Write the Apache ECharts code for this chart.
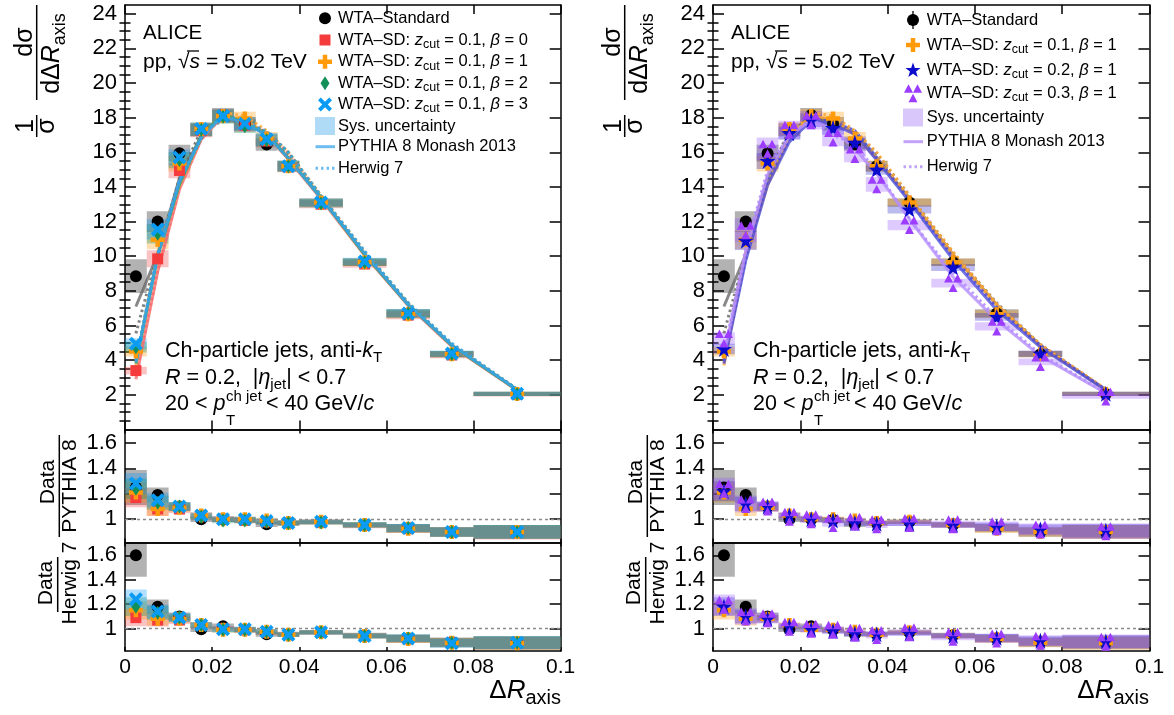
<!DOCTYPE html>
<html>
<head>
<meta charset="utf-8">
<script src="https://cdn.jsdelivr.net/npm/echarts@6.0.0/dist/echarts.min.js"></script>
<style>
html,body{margin:0;padding:0;background:#fff;}
#chart{width:1174px;height:715px;}
</style>
</head>
<body>
<div id="chart"></div>
<script>
// ================= DATA =================
const binEdges   = [0, 0.005, 0.01, 0.015, 0.02, 0.025, 0.03, 0.035, 0.04, 0.05, 0.06, 0.07, 0.08, 0.1];
const binCenters = [0.0025, 0.0075, 0.0125, 0.0175, 0.0225, 0.0275, 0.0325, 0.0375, 0.045, 0.055, 0.065, 0.075, 0.09];
const xTickValues     = [0, 0.02, 0.04, 0.06, 0.08, 0.1];
const mainTickLabels  = [2, 4, 6, 8, 10, 12, 14, 16, 18, 20, 22, 24];
const ratioTickLabels = [1, 1.2, 1.4, 1.6];

// main distributions 1/sigma dsigma/dDeltaR
const stdVals  = [8.85, 12.0, 15.95, 17.3, 18.15, 17.65, 16.45, 15.2, 13.1, 9.65, 6.7, 4.35, 2.05];
const sdB0Vals = [3.4, 9.85, 14.95, 17.25, 18.1, 17.55, 16.65, 15.15, 13.0, 9.55, 6.6, 4.3, 2.03];
const sdB1Vals = [4.5, 10.95, 15.35, 17.35, 18.1, 17.95, 16.8, 15.2, 13.1, 9.65, 6.65, 4.35, 2.05];
const sdB2Vals = [4.75, 11.3, 15.55, 17.3, 18.05, 17.5, 16.7, 15.2, 13.05, 9.65, 6.7, 4.35, 2.05];
const sdB3Vals = [4.95, 11.55, 15.7, 17.35, 18.1, 17.65, 16.75, 15.2, 13.1, 9.7, 6.7, 4.38, 2.06];
const sdZ2Vals = [4.65, 10.9, 15.5, 17.1, 17.85, 17.4, 16.55, 15.0, 12.7, 9.35, 6.5, 4.38, 2.06];
const sdZ3Vals = [5.25, 11.5, 16.2, 17.3, 17.85, 16.85, 15.9, 14.15, 11.8, 8.45, 5.95, 3.9, 1.9];

// PYTHIA 8 curves
const stdPythia  = [7.1, 10.1, 14.5, 16.95, 18.15, 17.75, 17.1, 15.65, 13.35, 10.1, 7.2, 4.85, 2.28];
const sdB0Pythia = [2.9, 9.1, 13.85, 16.75, 18.1, 17.75, 17.0, 15.6, 13.3, 10.05, 7.15, 4.8, 2.27];
const sdB1Pythia = [3.7, 10.15, 14.1, 16.85, 18.1, 17.9, 17.0, 15.65, 13.35, 10.1, 7.2, 4.85, 2.28];
const sdB2Pythia = [3.8, 10.0, 14.15, 16.95, 18.2, 17.7, 17.05, 15.65, 13.4, 10.1, 7.2, 4.85, 2.28];
const sdB3Pythia = [3.87, 10.05, 14.3, 16.85, 18.1, 17.65, 17.0, 15.65, 13.35, 10.15, 7.2, 4.87, 2.29];
const sdZ2Pythia = [3.8, 9.75, 14.1, 16.6, 17.85, 17.6, 17.05, 15.55, 13.15, 9.8, 6.9, 4.75, 2.26];
const sdZ3Pythia = [4.25, 10.25, 14.7, 16.95, 17.85, 17.35, 16.2, 14.75, 12.15, 8.8, 6.3, 4.25, 2.1];

// Herwig 7 curves
const stdHerwig  = [5.55, 10.15, 14.5, 17.3, 17.8, 17.85, 17.2, 15.9, 13.5, 10.2, 7.3, 4.9, 2.3];
const sdB0Herwig = [3.1, 9.2, 14.0, 16.75, 18.1, 17.75, 17.15, 15.95, 13.4, 10.15, 7.2, 4.85, 2.3];
const sdB1Herwig = [3.9, 10.15, 14.2, 16.85, 18.3, 18.1, 17.25, 16.0, 13.5, 10.25, 7.25, 4.9, 2.33];
const sdB2Herwig = [4.0, 10.0, 14.25, 16.8, 18.25, 17.7, 17.15, 16.0, 13.45, 10.25, 7.3, 4.9, 2.32];
const sdB3Herwig = [4.0, 10.15, 14.4, 16.85, 18.2, 17.75, 17.2, 16.0, 13.5, 10.3, 7.3, 4.98, 2.33];
const sdZ2Herwig = [3.95, 9.9, 14.35, 16.75, 17.95, 17.75, 17.25, 15.7, 13.25, 9.95, 7.05, 4.85, 2.3];
const sdZ3Herwig = [4.4, 10.45, 14.95, 17.05, 17.85, 17.0, 16.45, 14.9, 12.15, 9.05, 6.45, 4.35, 2.13];

// Data / PYTHIA 8
const stdRatioP  = [1.25, 1.19, 1.10, 1.0, 1.0, 0.995, 0.96, 0.97, 0.98, 0.955, 0.93, 0.9, 0.9];
const sdB0RatioP = [1.17, 1.08, 1.08, 1.03, 1.0, 0.99, 0.98, 0.97, 0.975, 0.95, 0.925, 0.9, 0.895];
const sdB1RatioP = [1.21, 1.08, 1.09, 1.03, 1.0, 1.0, 0.99, 0.97, 0.98, 0.955, 0.925, 0.9, 0.9];
const sdB2RatioP = [1.24, 1.13, 1.10, 1.02, 0.99, 0.99, 0.98, 0.97, 0.975, 0.955, 0.93, 0.9, 0.9];
const sdB3RatioP = [1.28, 1.15, 1.10, 1.03, 1.0, 1.0, 0.985, 0.97, 0.98, 0.955, 0.93, 0.9, 0.9];
const sdZ2RatioP = [1.22, 1.12, 1.10, 1.03, 1.0, 0.99, 0.97, 0.965, 0.965, 0.955, 0.94, 0.92, 0.91];
const sdZ3RatioP = [1.24, 1.12, 1.10, 1.02, 1.0, 0.97, 0.98, 0.96, 0.97, 0.96, 0.945, 0.92, 0.905];

// Data / Herwig 7
const stdRatioH  = [1.6, 1.18, 1.10, 0.995, 1.02, 0.99, 0.955, 0.955, 0.97, 0.945, 0.92, 0.89, 0.885];
const sdB0RatioH = [1.09, 1.07, 1.07, 1.03, 1.0, 0.99, 0.97, 0.95, 0.97, 0.94, 0.915, 0.885, 0.88];
const sdB1RatioH = [1.15, 1.08, 1.08, 1.03, 0.99, 0.99, 0.975, 0.95, 0.97, 0.94, 0.915, 0.885, 0.88];
const sdB2RatioH = [1.18, 1.13, 1.09, 1.03, 0.99, 0.99, 0.975, 0.95, 0.97, 0.94, 0.92, 0.885, 0.885];
const sdB3RatioH = [1.24, 1.14, 1.09, 1.03, 0.995, 0.995, 0.975, 0.95, 0.97, 0.94, 0.92, 0.88, 0.885];
const sdZ2RatioH = [1.18, 1.10, 1.08, 1.02, 0.995, 0.98, 0.96, 0.955, 0.96, 0.94, 0.925, 0.90, 0.895];
const sdZ3RatioH = [1.195, 1.10, 1.085, 1.016, 1.0, 0.99, 0.967, 0.948, 0.97, 0.934, 0.92, 0.90, 0.893];

// relative systematic uncertainties
const sysRelStd = [0.11, 0.05, 0.03, 0.022, 0.022, 0.022, 0.022, 0.02, 0.018, 0.022, 0.035, 0.042, 0.06];
const sysRelSD  = [0.065, 0.05, 0.03, 0.022, 0.022, 0.022, 0.022, 0.02, 0.018, 0.022, 0.035, 0.042, 0.06];
const sysRelZ3  = [0.07, 0.06, 0.04, 0.03, 0.03, 0.03, 0.03, 0.03, 0.025, 0.03, 0.04, 0.05, 0.065];

// ================= STYLE =================
const F = "'Liberation Sans', Arial, Helvetica, sans-serif";
const X_PTS = [[2,0],[5,3],[8,0],[10,2],[7,5],[10,8],[8,10],[5,7],[2,10],[0,8],[3,5],[0,2]];
const PLUS_PTS = [[3.4,0],[6.6,0],[6.6,3.4],[10,3.4],[10,6.6],[6.6,6.6],[6.6,10],[3.4,10],[3.4,6.6],[0,6.6],[0,3.4],[3.4,3.4]];
const DIAMOND_PTS = [[5,0],[10,5],[5,10],[0,5]];
const STAR_PTS = [];
for (let k = 0; k < 10; k++) {
  const a = (-90 + 36 * k) * Math.PI / 180, r = (k % 2) ? 2.0 : 5;
  STAR_PTS.push([5 + r * Math.cos(a), 5.3 + r * Math.sin(a)]);
}
const TRI_POLYS = [[[0,4.7],[2.5,0],[5,4.7]], [[5,4.7],[7.5,0],[10,4.7]], [[2.5,10],[5,5.3],[7.5,10]]];
function toPath(polys) {
  return 'path://' + polys.map(p => 'M' + p.map(q => q[0].toFixed(2) + ',' + q[1].toFixed(2)).join('L') + 'Z').join(' ');
}

const seriesLeft = [
  {main: stdVals,  pyth: stdPythia,  herw: stdHerwig,  rP: stdRatioP,  rH: stdRatioH,  sys: sysRelStd,
   color: '#000000', box: 'rgba(0,0,0,0.30)', line: '#6a6a6a', symbol: 'circle', size: 12, leg: 'circle'},
  {main: sdB0Vals, pyth: sdB0Pythia, herw: sdB0Herwig, rP: sdB0RatioP, rH: sdB0RatioH, sys: sysRelSD,
   color: '#f53b3b', box: 'rgba(240,55,55,0.30)', line: '#f76b6b', symbol: 'rect', size: 11, leg: 'rect'},
  {main: sdB1Vals, pyth: sdB1Pythia, herw: sdB1Herwig, rP: sdB1RatioP, rH: sdB1RatioH, sys: sysRelSD,
   color: '#ff9a0a', box: 'rgba(255,150,0,0.30)', line: '#ffa733', symbol: toPath([PLUS_PTS]), size: 14, leg: [PLUS_PTS]},
  {main: sdB2Vals, pyth: sdB2Pythia, herw: sdB2Herwig, rP: sdB2RatioP, rH: sdB2RatioH, sys: sysRelSD,
   color: '#12905a', box: 'rgba(0,140,80,0.30)', line: '#35a06a', symbol: 'diamond', size: [9, 14], leg: [DIAMOND_PTS], legW: 9},
  {main: sdB3Vals, pyth: sdB3Pythia, herw: sdB3Herwig, rP: sdB3RatioP, rH: sdB3RatioH, sys: sysRelSD,
   color: '#0a9cf5', box: 'rgba(0,150,255,0.30)', line: '#36a3ec', symbol: toPath([X_PTS]), size: 14, leg: [X_PTS]}
];
const seriesRight = [
  seriesLeft[0],
  seriesLeft[2],
  {main: sdZ2Vals, pyth: sdZ2Pythia, herw: sdZ2Herwig, rP: sdZ2RatioP, rH: sdZ2RatioH, sys: sysRelSD,
   color: '#0b0bcc', box: 'rgba(30,30,200,0.30)', line: '#4d4dd9', symbol: toPath([STAR_PTS]), size: 16, leg: [STAR_PTS]},
  {main: sdZ3Vals, pyth: sdZ3Pythia, herw: sdZ3Herwig, rP: sdZ3RatioP, rH: sdZ3RatioH, sys: sysRelZ3,
   color: '#9b3cff', box: 'rgba(150,80,255,0.30)', line: '#b48cff', symbol: toPath(TRI_POLYS), size: 18, leg: TRI_POLYS}
];

// ================= LAYOUT =================
const panelLeft = [125, 713];
const panelWidth = [435.7, 436.5];
const rows = [{top: 5, h: 424.5}, {top: 429.5, h: 113}, {top: 542.5, h: 108.5}];
const yRange = [[0, 24.5], [0.817, 1.705], [0.817, 1.705]];
const mainMinor = [];
for (let v = 0.5; v < 24.5; v += 0.5) if (v % 2 !== 0) mainMinor.push(v);

const grids = [], xAxes = [], yAxes = [];
const AX = {color: '#000', width: 1.5};
for (let p = 0; p < 2; p++) {
  for (let r = 0; r < 3; r++) {
    const g = p * 3 + r;
    grids.push({left: panelLeft[p], top: rows[r].top, width: panelWidth[p], height: rows[r].h});
    ['bottom', 'top'].forEach((pos, k) => xAxes.push({
      type: 'value', gridIndex: g, position: pos, min: 0, max: 0.1, interval: 0.02,
      axisLine: {show: true, onZero: false, lineStyle: AX},
      axisTick: {show: true, inside: true, length: r === 0 ? 9 : 4, lineStyle: AX},
      axisLabel: {show: r === 2 && k === 0, formatter: v => String(+v.toFixed(3)), fontSize: 21,
                  fontFamily: F, color: '#000', margin: 6},
      splitLine: {show: false}
    }));
    const labs = r === 0 ? mainTickLabels : ratioTickLabels;
    ['left', 'right'].forEach((pos, k) => yAxes.push({
      type: 'value', gridIndex: g, position: pos, min: yRange[r][0], max: yRange[r][1],
      axisLine: {show: true, onZero: false, lineStyle: AX},
      axisTick: {show: true, inside: true, length: 11, customValues: labs, lineStyle: AX},
      axisLabel: {show: k === 0, customValues: labs, formatter: v => String(+(+v).toFixed(1)),
                  fontSize: 22, fontFamily: F, color: '#000', margin: 8},
      splitLine: {show: false}
    }));
    ['left', 'right'].forEach(pos => yAxes.push({
      type: 'value', gridIndex: g, position: pos, min: yRange[r][0], max: yRange[r][1],
      axisLine: {show: false},
      axisTick: {show: r === 0, inside: true, length: 5.5, customValues: mainMinor, lineStyle: AX},
      axisLabel: {show: false}, splitLine: {show: false}
    }));
  }
}

// ================= SERIES =================
const series = [];
function boxSeries(g, vals, sys, color) {
  return {
    type: 'custom', xAxisIndex: g * 2, yAxisIndex: g * 4, clip: true, silent: true, z: 2,
    data: vals.map((v, i) => [binEdges[i], binEdges[i + 1], v * (1 - sys[i]), v * (1 + sys[i])]),
    encode: {x: [0, 1], y: [2, 3]},
    renderItem: (params, api) => {
      const a = api.coord([api.value(0), api.value(3)]);
      const b = api.coord([api.value(1), api.value(2)]);
      return {type: 'rect', shape: {x: a[0], y: a[1], width: b[0] - a[0], height: b[1] - a[1]},
              style: {fill: color}};
    }
  };
}
function pts(vals) { return binCenters.map((x, i) => [x, vals[i]]); }
function buildPanel(p, list) {
  const gM = p * 3, g1 = p * 3 + 1, g2 = p * 3 + 2;
  list.forEach(s => {
    series.push(boxSeries(gM, s.main, s.sys, s.box));
    series.push(boxSeries(g1, s.rP, s.sys, s.box));
    series.push(boxSeries(g2, s.rH, s.sys, s.box));
  });
  list.forEach(s => {
    series.push({type: 'line', xAxisIndex: gM * 2, yAxisIndex: gM * 4, data: pts(s.pyth), showSymbol: false,
      symbol: 'none', silent: true, z: 3, lineStyle: {color: s.line, width: 3, opacity: 0.8}});
    series.push({type: 'line', xAxisIndex: gM * 2, yAxisIndex: gM * 4, data: pts(s.herw), showSymbol: false,
      symbol: 'none', silent: true, z: 3, lineStyle: {color: s.line, width: 3, type: [2.5, 3], opacity: 0.85}});
  });
  list.forEach((s, k) => {
    [[gM, s.main], [g1, s.rP], [g2, s.rH]].forEach(([g, v]) => {
      const ser = {type: 'scatter', xAxisIndex: g * 2, yAxisIndex: g * 4, data: pts(v), symbol: s.symbol,
        symbolSize: s.size, silent: true, z: 5, itemStyle: {color: s.color, opacity: 1}};
      if (k === 0 && g !== gM) {
        ser.markLine = {silent: true, symbol: 'none', label: {show: false}, animation: false,
          lineStyle: {color: '#8a8a8a', type: [3, 3], width: 1.3}, data: [{yAxis: 1}]};
      }
      series.push(ser);
    });
  });
}
buildPanel(0, seriesLeft);
buildPanel(1, seriesRight);

// ================= GRAPHIC (texts, legends) =================
function rich(fs, sfs, lh, slh) {
  return {
    n:   {fontFamily: F, fontSize: fs, lineHeight: lh, verticalAlign: 'middle', fill: '#000'},
    i:   {fontFamily: F, fontSize: fs, fontStyle: 'italic', lineHeight: lh, verticalAlign: 'middle', fill: '#000'},
    sub: {fontFamily: F, fontSize: sfs, lineHeight: slh, verticalAlign: 'bottom', fill: '#000'},
    sup: {fontFamily: F, fontSize: sfs, lineHeight: slh, verticalAlign: 'top', fill: '#000'}
  };
}
function txt(x, y, text, fs, opt) {
  opt = opt || {};
  return {type: 'text', x: x, y: y, rotation: opt.rot || 0, z: 100, silent: true,
    style: {text: text, rich: rich(fs, opt.sfs || Math.round(fs * 0.75), opt.lh || Math.round(fs * 1.33), opt.slh || Math.round(fs * 0.55)),
      fontFamily: F, fontSize: fs, fill: '#000', align: opt.align || 'left', verticalAlign: 'middle'}};
}
function line(x1, y1, x2, y2, color, w, dash) {
  return {type: 'line', z: 100, silent: true, shape: {x1, y1, x2, y2},
    style: {stroke: color || '#000', lineWidth: w || 1.5, lineDash: dash || null}};
}
function marker(kind, cx, cy, color, size, w) {
  if (kind === 'circle') return [{type: 'circle', z: 100, silent: true, shape: {cx, cy, r: size / 2}, style: {fill: color}}];
  if (kind === 'rect') return [{type: 'rect', z: 100, silent: true, shape: {x: cx - size / 2, y: cy - size / 2, width: size, height: size}, style: {fill: color}}];
  const ww = w || size;
  return kind.map(poly => ({type: 'polygon', z: 100, silent: true,
    shape: {points: poly.map(q => [cx + (q[0] / 10 - 0.5) * ww, cy + (q[1] / 10 - 0.5) * size])}, style: {fill: color}}));
}

const G = [];
const LF = 16.5;
function legend(list, labels, mx, tx, rowsY, sysColor, lineColor, errBar) {
  list.forEach((s, k) => {
    if (k === 0 && errBar) G.push(line(mx, rowsY[0] - 9, mx, rowsY[0] + 9, '#000', 1.3));
    G.push(...marker(s.leg, mx, rowsY[k], s.color, Array.isArray(s.size) ? s.size[1] : s.size, s.legW));
    G.push(txt(tx, rowsY[k], labels[k], LF, {sfs: 12.5, lh: 22, slh: 10.6}));
  });
  const n = list.length;
  G.push({type: 'rect', z: 99, silent: true, shape: {x: mx - 10, y: rowsY[n] - 9, width: 20, height: 18}, style: {fill: sysColor}});
  G.push(txt(tx, rowsY[n], '{n|Sys. uncertainty}', LF));
  G.push(line(mx - 9.5, rowsY[n + 1], mx + 10, rowsY[n + 1], lineColor, 3));
  G.push(txt(tx, rowsY[n + 1], '{n|PYTHIA 8 Monash 2013}', LF));
  G.push(line(mx - 9.5, rowsY[n + 2], mx + 10, rowsY[n + 2], lineColor, 3, [2.5, 3]));
  G.push(txt(tx, rowsY[n + 2], '{n|Herwig 7}', LF));
}
legend(seriesLeft, [
  '{n|WTA–Standard}',
  '{n|WTA–SD: }{i|z}{sub|cut}{n| = 0.1, }{i|β}{n| = 0}',
  '{n|WTA–SD: }{i|z}{sub|cut}{n| = 0.1, }{i|β}{n| = 1}',
  '{n|WTA–SD: }{i|z}{sub|cut}{n| = 0.1, }{i|β}{n| = 2}',
  '{n|WTA–SD: }{i|z}{sub|cut}{n| = 0.1, }{i|β}{n| = 3}'
], 325, 338, [18.3, 40, 61.7, 83.3, 104.5, 126, 146.7, 168.3], '#b0dbf6', '#6ebdf0', false);
legend(seriesRight, [
  '{n|WTA–Standard}',
  '{n|WTA–SD: }{i|z}{sub|cut}{n| = 0.1, }{i|β}{n| = 1}',
  '{n|WTA–SD: }{i|z}{sub|cut}{n| = 0.2, }{i|β}{n| = 1}',
  '{n|WTA–SD: }{i|z}{sub|cut}{n| = 0.3, }{i|β}{n| = 1}'
], 913, 926.7, [20, 45, 70, 93.3, 117.5, 141.7, 166.7], '#d9c6fb', '#c2a2f8', true);

[0, 588].forEach(dx => {
  // experiment labels
  G.push(txt(143 + dx, 33, '{n|ALICE}', 20.5));
  G.push(txt(143 + dx, 62, '{n|pp, √}{i|s}{n| = 5.02 TeV}', 21));
  G.push(line(187 + dx, 51, 199 + dx, 51, '#000', 1.3));
  G.push(txt(165 + dx, 351, '{n|Ch-particle jets, anti-}{i|k}{sub|T}', 21.5, {sfs: 15, lh: 28, slh: 9}));
  G.push(txt(165 + dx, 378, '{i|R}{n| = 0.2,  |}{i|η}{sub|jet}{n|| < 0.7}', 21.5, {sfs: 15, lh: 28, slh: 9}));
  G.push(txt(165 + dx, 404, '{n|20 < }{i|p}', 21.5));
  G.push(txt(226 + dx, 396.5, '{n|ch jet}', 15));
  G.push(txt(226 + dx, 421, '{n|T}', 15));
  G.push(txt(266 + dx, 404, '{n|< 40 GeV/}{i|c}', 21.5));
  // y-axis title (main)
  const R90 = Math.PI / 2;
  G.push(txt(25.5 + dx, 42, '{n|dσ}', 25, {rot: R90, align: 'center'}));
  G.push(line(36.7 + dx, 5, 36.7 + dx, 100));
  G.push(txt(52 + dx, 53.5, '{n|dΔ}{i|R}{sub|axis}', 25, {rot: R90, align: 'center', sfs: 18, lh: 34, slh: 12}));
  G.push(txt(26.5 + dx, 126, '{n|1}', 25, {rot: R90, align: 'center'}));
  G.push(line(36.7 + dx, 115, 36.7 + dx, 137));
  G.push(txt(47.5 + dx, 126, '{n|σ}', 25, {rot: R90, align: 'center'}));
  // ratio titles
  G.push(txt(48 + dx, 482, '{n|Data}', 21, {rot: R90, align: 'center'}));
  G.push(line(59.3 + dx, 435, 59.3 + dx, 537));
  G.push(txt(70 + dx, 486, '{n|PYTHIA 8}', 21, {rot: R90, align: 'center'}));
  G.push(txt(46.5 + dx, 583, '{n|Data}', 21, {rot: R90, align: 'center'}));
  G.push(line(57.7 + dx, 557, 57.7 + dx, 612));
  G.push(txt(70 + dx, 583, '{n|Herwig 7}', 21, {rot: R90, align: 'center'}));
  // x-axis title
  G.push(txt(561 + dx, 691, '{n|Δ}{i|R}{sub|axis}', 26, {align: 'right', sfs: 20, lh: 34, slh: 12}));
});

// ================= CHART =================
const chart = echarts.init(document.getElementById('chart'), null, {renderer: 'canvas'});
chart.setOption({
  animation: false,
  backgroundColor: '#ffffff',
  grid: grids,
  xAxis: xAxes,
  yAxis: yAxes,
  series: series,
  graphic: {elements: G}
});
</script>
</body>
</html>
